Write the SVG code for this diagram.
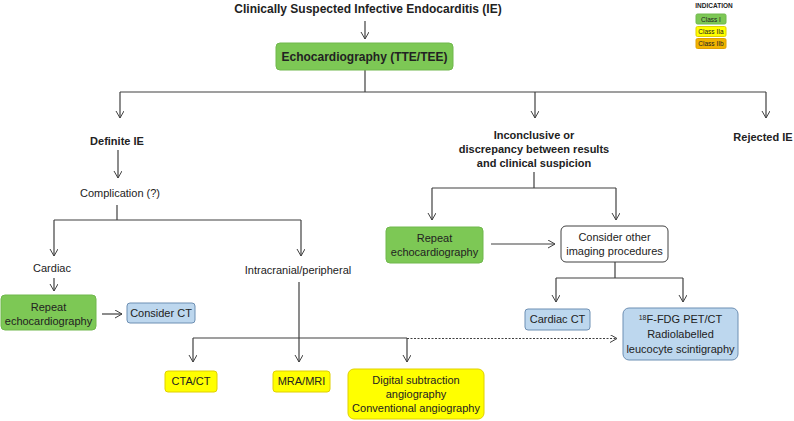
<svg xmlns="http://www.w3.org/2000/svg" width="794" height="421" viewBox="0 0 794 421">
<defs>
<marker id="arr" markerWidth="10" markerHeight="10" refX="7" refY="4" orient="auto" markerUnits="userSpaceOnUse">
<polyline points="0,0 7,4 0,8" fill="none" stroke="#404040" stroke-width="1"/>
</marker>
<style>
text{font-family:"Liberation Sans",Arial,sans-serif;fill:#222;text-anchor:middle}
.b{font-weight:bold}
.t{font-size:11px}
.line{fill:none;stroke:#404040;stroke-width:1.2}
.ar{marker-end:url(#arr)}
.dot{stroke-dasharray:2,1.5}
.green{fill:#7dc855;stroke:#70b84c;stroke-width:1}
.yellow{fill:#ffff00;stroke:#e0d000;stroke-width:1}
.blue{fill:#bdd7ee;stroke:#6d8fb3;stroke-width:1}
.white{fill:#fff;stroke:#404040;stroke-width:1}
.orange{fill:#f0b400;stroke:#e0a000;stroke-width:1}
.lg{font-size:6.5px}
</style>
</defs>
<rect width="794" height="421" fill="#fff"/>
<g id="legend">
<text x="714" y="8" class="b" style="font-size:6.5px">INDICATION</text>
<rect x="696" y="14" width="30" height="10" rx="1.5" class="green"/>
<text x="711" y="21.5" class="lg">Class I</text>
<rect x="696" y="26.5" width="30" height="10" rx="1.5" class="yellow"/>
<text x="711" y="34" class="lg">Class IIa</text>
<rect x="696" y="38.5" width="30" height="10" rx="1.5" class="orange"/>
<text x="711" y="46" class="lg">Class IIb</text>
</g>
<g id="connectors">
<path class="line ar" d="M365,21 V39"/>
<path class="line" d="M365,70 V92 M120,92 H766"/>
<path class="line ar" d="M120,92 V118"/>
<path class="line ar" d="M535,92 V118"/>
<path class="line ar" d="M766,92 V118"/>
<path class="line ar" d="M118,150 V178"/>
<path class="line" d="M117,205 V220 M54,220 H301"/>
<path class="line ar" d="M54,220 V256"/>
<path class="line ar" d="M301,220 V256"/>
<path class="line ar" d="M54,278 V291"/>
<path class="line ar" d="M102,314 H122"/>
<path class="line" d="M299,282 V338 M193,338 H407"/>
<path class="line ar" d="M193,338 V362"/>
<path class="line ar" d="M299,338 V362"/>
<path class="line ar" d="M407,338 V362"/>
<path class="line ar dot" d="M407,338.5 H617"/>
<path class="line" d="M534,172 V188 M432,188 H616"/>
<path class="line ar" d="M432,188 V220"/>
<path class="line ar" d="M616,188 V220"/>
<path class="line ar" d="M491,244 H555"/>
<path class="line" d="M615,262 V278 M556,278 H683"/>
<path class="line ar" d="M556,278 V302"/>
<path class="line ar" d="M683,278 V302"/>
</g>
<g id="title"><text x="368" y="13" class="b" style="font-size:12px">Clinically Suspected Infective Endocarditis (IE)</text></g>
<g id="echo">
<rect x="276" y="43" width="177" height="27" rx="4" class="green"/>
<text x="364.5" y="61" class="b" style="font-size:12px">Echocardiography (TTE/TEE)</text>
</g>
<g id="definite"><text x="117" y="145" class="b t">Definite IE</text></g>
<g id="inconclusive">
<text x="534" y="139" class="b t">Inconclusive or</text>
<text x="534" y="153" class="b t">discrepancy between results</text>
<text x="534" y="167" class="b t">and clinical suspicion</text>
</g>
<g id="rejected"><text x="763" y="141" class="b t">Rejected IE</text></g>
<g id="complication"><text x="120" y="197" class="t">Complication (?)</text></g>
<g id="cardiac"><text x="52" y="272" class="t">Cardiac</text></g>
<g id="intracranial"><text x="298" y="274" class="t">Intracranial/peripheral</text></g>
<g id="repeat-left">
<rect x="1" y="295" width="95" height="35" rx="4" class="green"/>
<text x="48.5" y="311" class="t">Repeat</text>
<text x="48.5" y="325" class="t">echocardiography</text>
</g>
<g id="consider-ct">
<rect x="127" y="303" width="68" height="20" rx="3" class="blue"/>
<text x="161" y="317" class="t">Consider CT</text>
</g>
<g id="repeat-right">
<rect x="386" y="227" width="97" height="36" rx="4" class="green"/>
<text x="434.5" y="242" class="t">Repeat</text>
<text x="434.5" y="256" class="t">echocardiography</text>
</g>
<g id="consider-other">
<rect x="561" y="226" width="107" height="36" rx="5" class="white"/>
<text x="614.5" y="241" class="t">Consider other</text>
<text x="614.5" y="255" class="t">imaging procedures</text>
</g>
<g id="cardiac-ct">
<rect x="525" y="309" width="65" height="21" rx="3" class="blue"/>
<text x="557.5" y="323" class="t">Cardiac CT</text>
</g>
<g id="pet">
<rect x="623" y="308" width="115" height="52" rx="6" class="blue"/>
<text x="680.5" y="323" class="t"><tspan style="font-size:7px" dy="-3">18</tspan><tspan dy="3">F-FDG PET/CT</tspan></text>
<text x="680.5" y="338" class="t">Radiolabelled</text>
<text x="680.5" y="353" class="t">leucocyte scintigraphy</text>
</g>
<g id="cta">
<rect x="165" y="371" width="52" height="21" rx="3" class="yellow"/>
<text x="191" y="385" class="t">CTA/CT</text>
</g>
<g id="mra">
<rect x="273" y="371" width="57" height="21" rx="3" class="yellow"/>
<text x="301.5" y="385" class="t">MRA/MRI</text>
</g>
<g id="dsa">
<rect x="348" y="369" width="136" height="50" rx="6" class="yellow"/>
<text x="416" y="384" class="t">Digital subtraction</text>
<text x="416" y="398" class="t">angiography</text>
<text x="416" y="412" class="t">Conventional angiography</text>
</g>
</svg>
